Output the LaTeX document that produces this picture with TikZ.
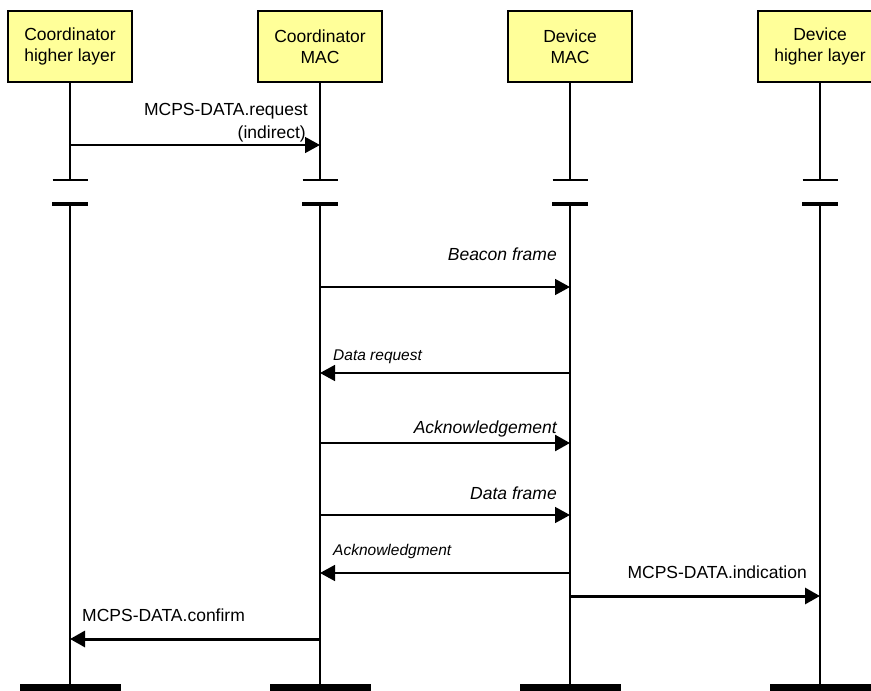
\documentclass[tikz,border=0pt]{standalone}
\usepackage{fontspec}
\setmainfont{Liberation Sans}
\usetikzlibrary{arrows.meta}
\definecolor{boxfill}{RGB}{255,255,153}
\tikzset{
  entity/.style={draw=black, line width=1.5pt, fill=boxfill, minimum width=124pt, minimum height=71pt,
    inner sep=0pt, align=center, font=\fontsize{17.5}{21}\selectfont},
  life/.style={line width=#1},
  life/.default=1.4pt,
  thintick/.style={line width=1.4pt},
  thicktick/.style={line width=3.5pt},
  endbar/.style={fill=black, draw=none},
  msg/.style={line width=#1, -{Triangle[length=15pt,width=16pt]}},
  msg/.default=1.5pt,
  lbl/.style={inner sep=0pt, font=\fontsize{17.5}{19}\selectfont},
  ilbl/.style={inner sep=0pt, font=\fontsize{17.5}{19}\selectfont\itshape},
  slbl/.style={inner sep=0pt, font=\fontsize{15.5}{17}\selectfont\itshape}
}
\begin{document}
\begin{tikzpicture}[x=1pt,y=-1pt]
\useasboundingbox (0,0) rectangle (871,691);

% participants
\node[entity] (chl) at (70,46.5)  {Coordinator\\higher layer};
\node[entity] (cmac) at (320,46.5) {Coordinator\\MAC};
\node[entity] (dmac) at (570,46.5) {Device\\MAC};
\node[entity] (dhl) at (820,46.5)  {Device\\higher layer};

% lifeline break points and ends
\foreach \n/\x/\w in {chl/70/1.4pt, cmac/320/1.4pt, dmac/570/2.3pt, dhl/820/2.3pt}{
  \coordinate (\n-a) at (\x,180);
  \coordinate (\n-b) at (\x,204);
  \coordinate (\n-e) at (\x,684);
  \draw[life=\w] (\n.south) -- (\n-a);
  \draw[thintick] ([xshift=-17.5pt]\n-a) -- ([xshift=17.5pt]\n-a);
  \draw[thicktick] ([xshift=-18pt]\n-b) -- ([xshift=18pt]\n-b);
  \draw[life=\w] (\n-b) -- (\n-e);
  \fill[endbar] ([xshift=-50.5pt]\n-e) rectangle ([xshift=50.5pt,yshift=-10pt]\n-e);
}

% message end points
\coordinate (m1s) at (70,145);   \coordinate (m1e) at (320,145);
\coordinate (m2s) at (320,287);  \coordinate (m2e) at (570,287);
\coordinate (m3s) at (570,373);  \coordinate (m3e) at (320,373);
\coordinate (m4s) at (320,443);  \coordinate (m4e) at (570,443);
\coordinate (m5s) at (320,515);  \coordinate (m5e) at (570,515);
\coordinate (m6s) at (570,573);  \coordinate (m6e) at (320,573);
\coordinate (m7s) at (570,596);  \coordinate (m7e) at (820,596);
\coordinate (m8s) at (320,639);  \coordinate (m8e) at (70,639);

% messages
\draw[msg=1.4pt] (m1s) -- (m1e);
\draw[msg=1.5pt] (m2s) -- (m2e);
\draw[msg=1.5pt] (m3s) -- (m3e);
\draw[msg=2.6pt] (m4s) -- (m4e);
\draw[msg=1.5pt] (m5s) -- (m5e);
\draw[msg=1.5pt] (m6s) -- (m6e);
\draw[msg=3pt]   (m7s) -- (m7e);
\draw[msg=3pt]   (m8s) -- (m8e);

% message labels
\node[lbl, anchor=base east] (t1a) at (308,115) {MCPS-DATA.request};
\node[lbl, anchor=base east] (t1b) at (306,138) {(indirect)};
\node[ilbl, anchor=base east] (t2) at (557,260) {Beacon frame};
\node[slbl, anchor=base west] (t3) at (333,360) {Data request};
\node[ilbl, anchor=base east] (t4) at (557,433) {Acknowledgement};
\node[ilbl, anchor=base east] (t5) at (557,499) {Data frame};
\node[slbl, anchor=base west] (t6) at (333,555) {Acknowledgment};
\node[lbl, anchor=base east] (t7) at (807,578) {MCPS-DATA.indication};
\node[lbl, anchor=base west] (t8) at (82,621) {MCPS-DATA.confirm};
\end{tikzpicture}
\end{document}
